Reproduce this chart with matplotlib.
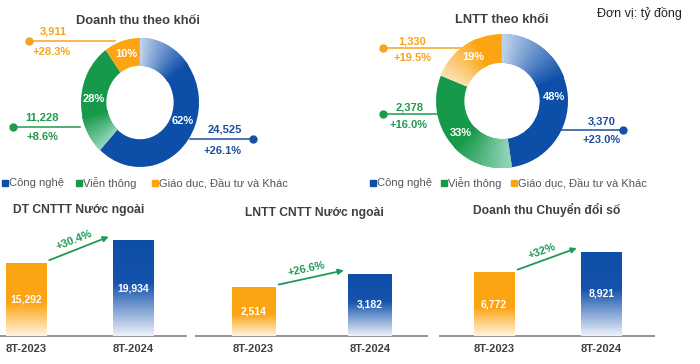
import numpy as np
import matplotlib.pyplot as plt
from matplotlib.patches import Wedge
from matplotlib.colors import to_rgb, LinearSegmentedColormap

# segment data (donuts)
segments = ["Công nghệ", "Viễn thông", "Giáo dục, Đầu tư và Khác"]
rev_values = [24525, 11228, 3911]
rev_pct = ["62%", "28%", "10%"]
rev_growth = ["+26.1%", "+8.6%", "+28.3%"]
pbt_values = [3370, 2378, 1330]
pbt_pct = ["48%", "33%", "19%"]
pbt_growth = ["+23.0%", "+16.0%", "+19.5%"]

# bar panels
periods = ["8T-2023", "8T-2024"]
dt_cntt_nn = [15292, 19934]
lntt_cntt_nn = [2514, 3182]
dt_cds = [6772, 8921]
bar_growth = ["+30.4%", "+26.6%", "+32%"]

BLUE, GREEN, ORANGE = "#0c4ea8", "#17994a", "#fca412"
LIGHTS = ["#c5d7f0", "#9ad8c0", "#fde3b8"]
DARKS = [BLUE, GREEN, ORANGE]
TXT_COL = ["#1b4f9f", "#1f9a4e", "#f5a41c"]
GREY = "#3f3f3f"
FONT = ["Liberation Sans", "DejaVu Sans"]

W, H = 700, 364
fig = plt.figure(figsize=(7, 3.64), dpi=100)


def box(x0, y0, x1, y1):
    return [x0 / W, 1 - y1 / H, (x1 - x0) / W, (y1 - y0) / H]


# overlay in pixel coords for connector lines and free text
ov = fig.add_axes([0, 0, 1, 1], zorder=0)
ov.set_xlim(0, W)
ov.set_ylim(H, 0)
ov.axis("off")


def mix(c1, c2, t):
    a, b = np.array(to_rgb(c1)), np.array(to_rgb(c2))
    return a + (b - a) * t


def donut(px, values, pcts, grad):
    ax = fig.add_axes(box(*px), zorder=2)
    ax.set_facecolor("none")
    wedges, _ = ax.pie(values, colors=DARKS, startangle=90, counterclock=False,
                       radius=1, wedgeprops=dict(width=0.43, linewidth=0))
    ax.set_aspect("auto")
    ax.set_xlim(-1, 1)
    ax.set_ylim(-1, 1)
    ax.axis("off")
    # soft gradient at the start of each wedge
    for w, dark, light, g in zip(wedges, DARKS, LIGHTS, grad):
        if g <= 0:
            continue
        start = w.theta2
        n = 40
        e = np.linspace(0, g, n + 1)
        for i in range(n):
            c = mix(light, dark, (i + 0.5) / n)
            ax.add_patch(Wedge((0, 0), 1, start - e[i + 1],
                               min(start, start - e[i] + 0.4),
                               width=0.43, facecolor=c, edgecolor=c, lw=0.3))
    for w, p in zip(wedges, pcts):
        m = np.deg2rad((w.theta1 + w.theta2) / 2)
        ax.text(0.785 * np.cos(m), 0.785 * np.sin(m), p, color="white",
                fontsize=8, fontweight="bold", ha="center", va="center",
                family=FONT)
    return ax


donut((81, 38, 199, 167), rev_values, rev_pct, [55, 35, 0])
donut((436, 34, 568, 168), pbt_values, pbt_pct, [70, 55, 45])


def callout(x0, x1, y, dot_x, vx, vy, gx, gy, val, grow, col):
    ov.plot([x0, x1], [y, y], color=col, lw=1.1, zorder=1)
    ov.plot([dot_x], [y], "o", color=col, ms=5, zorder=1)
    ov.text(vx, vy, f"{val:,}", color=col, fontsize=8, fontweight="bold",
            ha="center", va="center", family=FONT)
    ov.text(gx, gy, grow, color=col, fontsize=8, fontweight="bold",
            ha="center", va="center", family=FONT)


# left donut callouts: blue, green, orange
callout(190, 253, 139, 253, 225, 130, 222, 151, rev_values[0], rev_growth[0], TXT_COL[0])
callout(13, 80, 127, 13, 42, 117, 42, 137, rev_values[1], rev_growth[1], TXT_COL[1])
callout(29, 115, 41, 29, 53, 32, 52, 52, rev_values[2], rev_growth[2], TXT_COL[2])
# right donut callouts
callout(560, 623, 130, 623, 602, 121, 602, 140, pbt_values[0], pbt_growth[0], TXT_COL[0])
callout(383, 440, 114, 383, 410, 107, 408, 125, pbt_values[1], pbt_growth[1], TXT_COL[1])
callout(383, 465, 48, 383, 412, 41, 412, 58, pbt_values[2], pbt_growth[2], TXT_COL[2])

ov.text(138, 21, "Doanh thu theo khối", color=GREY, fontsize=9.3,
        fontweight="bold", ha="center", va="center", family=FONT)
ov.text(502, 20, "LNTT theo khối", color=GREY, fontsize=9.3,
        fontweight="bold", ha="center", va="center", family=FONT)
ov.text(682, 13, "Đơn vị: tỷ đồng", color="#222222", fontsize=9,
        ha="right", va="center", family=FONT)

# legends
for xs, y in [([3, 77, 153], 183), ([371, 442, 512], 183)]:
    for x, lab, c in zip(xs, segments, DARKS):
        ov.plot([x + 2], [y], "s", color=c, ms=4)
        ov.text(x + 6, y, lab, color="#555555", fontsize=8,
                ha="left", va="center", family=FONT)


def bar_panel(px, xlim, width, ymax, values, growth, title, tpos):
    ax = fig.add_axes(box(*px), zorder=2)
    ax.set_facecolor("none")
    bars = ax.bar([0, 1], values, width=width, color=[ORANGE, BLUE])
    cmaps = [
        LinearSegmentedColormap.from_list("o", [(0, ORANGE), (0.55, ORANGE), (1, "#fff4e2")]),
        LinearSegmentedColormap.from_list("b", [(0, BLUE), (0.45, "#1553ad"), (1, "#eef2fa")]),
    ]
    grad = np.linspace(0, 1, 256)[:, None]
    for b, cm in zip(bars, cmaps):
        x0 = b.get_x()
        im = ax.imshow(grad, cmap=cm, aspect="auto", origin="upper",
                       extent=(x0, x0 + b.get_width(), 0, b.get_height()), zorder=3)
        im.set_clip_path(b)
        ax.text(b.get_x() + b.get_width() / 2, b.get_height() / 2,
                f"{b.get_height():,.0f}", color="white", fontsize=7.5,
                fontweight="bold", ha="center", va="center", zorder=4, family=FONT)
    ax.set_xlim(*xlim)
    ax.set_ylim(0, ymax)
    for s in ["top", "left", "right"]:
        ax.spines[s].set_visible(False)
    ax.spines["bottom"].set_color("#8a8a8a")
    ax.spines["bottom"].set_linewidth(1.3)
    ax.set_yticks([])
    ax.set_xticks([0, 1], periods)
    ax.tick_params(axis="x", length=0, pad=6)
    for t in ax.get_xticklabels():
        t.set_fontweight("bold")
        t.set_fontsize(8)
        t.set_color(GREY)
        t.set_family(FONT)
    # growth arrow between bar tops
    p0 = (width / 2 + 0.03, values[0] + ymax * 0.02)
    p1 = (1 - width / 2 - 0.04, values[1] + ymax * 0.03)
    ax.annotate("", xy=p1, xytext=p0,
                arrowprops=dict(arrowstyle="-|>", color="#1e9a55", lw=1.3,
                                mutation_scale=8, shrinkA=0, shrinkB=0))
    d0, d1 = ax.transData.transform([p0, p1])
    ang = np.degrees(np.arctan2(d1[1] - d0[1], d1[0] - d0[0]))
    mx, my = (p0[0] + p1[0]) / 2, (p0[1] + p1[1]) / 2
    ax.annotate(growth, (mx, my), xytext=(-5, 8), textcoords="offset pixels",
                rotation=ang, color="#1e9a55", fontsize=8, fontweight="bold",
                ha="center", va="center", rotation_mode="anchor", family=FONT)
    fig.text(tpos[0] / W, 1 - tpos[1] / H, title, color=GREY, fontsize=8.7,
             fontweight="bold", ha="left", va="center", family=FONT)


bar_panel((0, 216, 186, 336), (-0.243, 1.495), 0.374, 25000, dt_cntt_nn,
          bar_growth[0], "DT CNTTT Nước ngoài", (13, 210))
bar_panel((196, 216, 427, 336), (-0.494, 1.489), 0.37, 6158, lntt_cntt_nn,
          bar_growth[1], "LNTT CNTT Nước ngoài", (245, 213))
bar_panel((440, 216, 654, 336), (-0.502, 1.488), 0.38, 12700, dt_cds,
          bar_growth[2], "Doanh thu Chuyển đổi số", (473, 210))

fig.savefig("out.png", dpi=100, facecolor="white")
